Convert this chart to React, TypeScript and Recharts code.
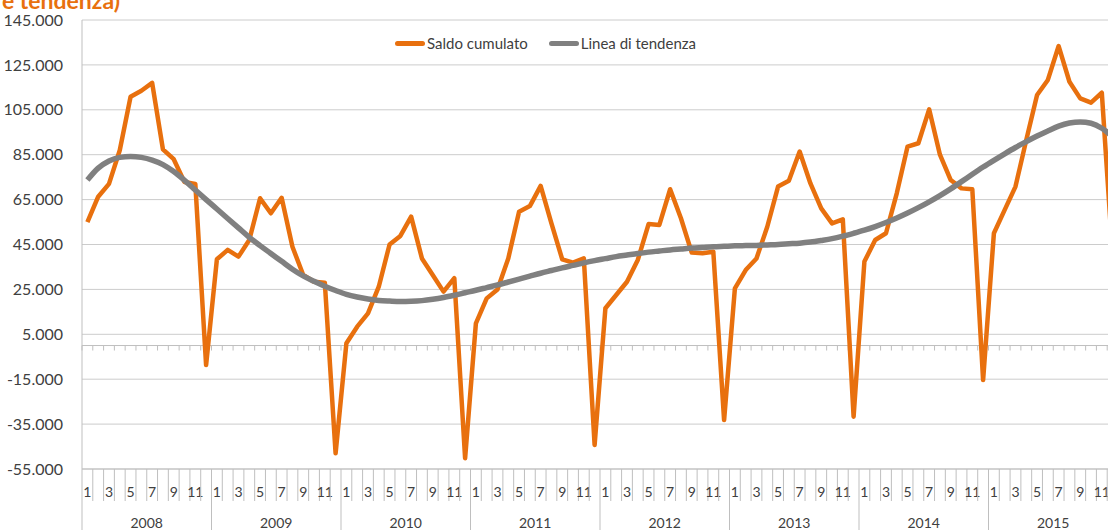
import React from 'react';
import { LineChart, Line, XAxis, YAxis, CartesianGrid, Legend, ReferenceLine } from 'recharts';

const YEARS = ['2008', '2009', '2010', '2011', '2012', '2013', '2014', '2015'];
const MONTHS = [1, 2, 3, 4, 5, 6, 7, 8, 9, 10, 11, 12];

// Saldo cumulato, one array per year (Jan..Dec)
const SALDO_2008 = [55000, 66300, 72000, 87000, 110800, 113500, 117000, 87400, 83000, 72800, 72000, -8700];
const SALDO_2009 = [38400, 42600, 39600, 47000, 65600, 58900, 65800, 44000, 31400, 28400, 28000, -48000];
const SALDO_2010 = [1000, 8400, 14300, 26200, 45000, 48800, 57400, 38800, 31400, 24000, 30000, -50200];
const SALDO_2011 = [9900, 21000, 25000, 38800, 59600, 62100, 71100, 54400, 38400, 36900, 38800, -44300];
const SALDO_2012 = [16600, 22500, 28400, 38100, 54100, 53700, 69600, 56700, 41400, 41100, 41800, -33200];
const SALDO_2013 = [25500, 33600, 38800, 52900, 70800, 73400, 86400, 72200, 61100, 54400, 56200, -31700];
const SALDO_2014 = [37400, 47000, 50000, 67800, 88600, 90100, 105200, 85000, 73700, 70000, 69600, -15400];
const SALDO_2015 = [50000, 60400, 70800, 91500, 111600, 118300, 133400, 117500, 110100, 108200, 112600, 40000];

// Linea di tendenza
const TREND_2008 = [73700, 79000, 82200, 83800, 84200, 83800, 82600, 80600, 77500, 73600, 69300, 65000];
const TREND_2009 = [60800, 56600, 52400, 48200, 44500, 41000, 37500, 34000, 31000, 28600, 26400, 24500];
const TREND_2010 = [22800, 21600, 20700, 20100, 19800, 19600, 19700, 20000, 20600, 21400, 22400, 23500];
const TREND_2011 = [24600, 25800, 27000, 28300, 29600, 30900, 32200, 33400, 34600, 35700, 36800, 37800];
const TREND_2012 = [38700, 39600, 40300, 41000, 41600, 42100, 42600, 43000, 43400, 43700, 44000, 44200];
const TREND_2013 = [44400, 44500, 44600, 44800, 45000, 45300, 45600, 46100, 46800, 47600, 48700, 50000];
const TREND_2014 = [51400, 53000, 54800, 56800, 59000, 61400, 64000, 66800, 69800, 73000, 76300, 79500];
const TREND_2015 = [82500, 85400, 88200, 90800, 93300, 95600, 97700, 99100, 99600, 99000, 96800, 93000];

const SALDO = [SALDO_2008, SALDO_2009, SALDO_2010, SALDO_2011, SALDO_2012, SALDO_2013, SALDO_2014, SALDO_2015];
const TREND = [TREND_2008, TREND_2009, TREND_2010, TREND_2011, TREND_2012, TREND_2013, TREND_2014, TREND_2015];

const Y_TICKS = [-55000, -35000, -15000, 5000, 25000, 45000, 65000, 85000, 105000, 125000, 145000];

const ORANGE = '#E8700E';
const GRAY = '#808080';
const GRID = '#cccccc';
const AXIS = '#bfbfbf';
const TEXT = '#404040';

const SERIES = [
    { key: 'saldo', name: 'Saldo cumulato', color: ORANGE },
    { key: 'trend', name: 'Linea di tendenza', color: GRAY },
];

const CHART_W = 1120;
const CHART_H = 530;
const MARGIN = { top: 20, right: 2, bottom: 0, left: 0 };
const Y_W = 82;

const data = YEARS.flatMap((year, yi) =>
    MONTHS.map((month, mi) => ({
        key: `${year}-${month}`,
        year,
        month,
        saldo: SALDO[yi][mi],
        trend: TREND[yi][mi],
    }))
);

// width of one month slot on the category axis
const STEP = (CHART_W - Y_W - MARGIN.left - MARGIN.right) / data.length;

const fmt = (v: number) => {
    const s = Math.abs(v).toString().replace(/\B(?=(\d{3})+(?!\d))/g, '.');
    return (v < 0 ? '-' : '') + s;
};

const MonthTick = (props: any) => {
    const { x, y, payload, index } = props;
    const row = data.find((d) => d.key === payload.value) || data[index];
    const half = STEP / 2;
    const last = row === data[data.length - 1];
    return (
        <g>
            <line x1={x - half} x2={x - half} y1={y} y2={row.month === 1 ? y + 61 : y + 32} stroke={AXIS} />
            {last && <line x1={x + half} x2={x + half} y1={y} y2={y + 61} stroke={AXIS} />}
            {row.month % 2 === 1 && (
                <text x={x} y={y + 28} textAnchor="middle" fill={TEXT} fontSize={14}>
                    {row.month}
                </text>
            )}
            {row.month === 7 && (
                <text x={x - half} y={y + 59} textAnchor="middle" fill={TEXT} fontSize={14}>
                    {row.year}
                </text>
            )}
        </g>
    );
};

// horizontal axis crossing at 0, with a small tick between months
const ZeroAxis = (props: any) => {
    const { x1, x2, y1 } = props;
    if (x1 == null) return null;
    const n = data.length;
    const step = (x2 - x1) / n;
    return (
        <g>
            <line x1={x1} x2={x2} y1={y1} y2={y1} stroke={AXIS} />
            {Array.from({ length: n + 1 }, (_, k) => (
                <line key={k} x1={x1 + k * step} x2={x1 + k * step} y1={y1} y2={y1 + 5} stroke={AXIS} />
            ))}
        </g>
    );
};

const LegendContent = () => (
    <div style={{ display: 'flex', alignItems: 'center', fontSize: 15, color: TEXT, whiteSpace: 'nowrap' }}>
        {SERIES.map((s) => (
            <div key={s.key} style={{ display: 'flex', alignItems: 'center', marginRight: 21 }}>
                <span style={{ display: 'inline-block', width: 30, height: 5, borderRadius: 2.5, background: s.color, marginRight: 2 }} />
                <span>{s.name}</span>
            </div>
        ))}
    </div>
);

export default function App() {
    return (
        <div
            style={{
                position: 'absolute',
                left: 0,
                top: 0,
                width: 1108,
                height: 530,
                overflow: 'hidden',
                background: '#fff',
                fontFamily: 'Lato, "Open Sans", sans-serif',
            }}
        >
            <div
                style={{
                    position: 'absolute',
                    right: 1108 - 120,
                    top: -11,
                    whiteSpace: 'nowrap',
                    fontSize: 23,
                    lineHeight: '23px',
                    fontWeight: 'bold',
                    color: ORANGE,
                }}
            >
                Saldo cumulato (dati grezzi e tendenza)
            </div>
            <LineChart width={CHART_W} height={CHART_H} data={data} margin={MARGIN}>
                <CartesianGrid horizontal vertical={false} stroke={GRID} />
                <YAxis
                    width={Y_W}
                    domain={[-55000, 145000]}
                    ticks={Y_TICKS}
                    tickFormatter={fmt}
                    tickLine={false}
                    tickSize={0}
                    tickMargin={19}
                    axisLine={{ stroke: AXIS }}
                    tick={{ fill: TEXT, fontSize: 16 }}
                    interval={0}
                />
                <XAxis
                    dataKey="key"
                    interval={0}
                    padding={{ left: STEP / 2, right: STEP / 2 }}
                    tickLine={false}
                    tickSize={0}
                    tickMargin={0}
                    axisLine={{ stroke: AXIS }}
                    height={61}
                    tick={<MonthTick />}
                />
                <ReferenceLine y={0} shape={(p: any) => <ZeroAxis {...p} />} />
                <Legend
                    verticalAlign="middle"
                    align="center"
                    layout="horizontal"
                    content={<LegendContent />}
                    wrapperStyle={{ top: 34, left: 395, width: 360, height: 18, lineHeight: '18px' }}
                />
                <Line
                    type="linear"
                    dataKey="saldo"
                    name="Saldo cumulato"
                    stroke={ORANGE}
                    strokeWidth={4.5}
                    strokeLinejoin="round"
                    dot={false}
                    isAnimationActive={false}
                />
                <Line
                    type="monotone"
                    dataKey="trend"
                    name="Linea di tendenza"
                    stroke={GRAY}
                    strokeWidth={5.5}
                    dot={false}
                    isAnimationActive={false}
                />
            </LineChart>
        </div>
    );
}
